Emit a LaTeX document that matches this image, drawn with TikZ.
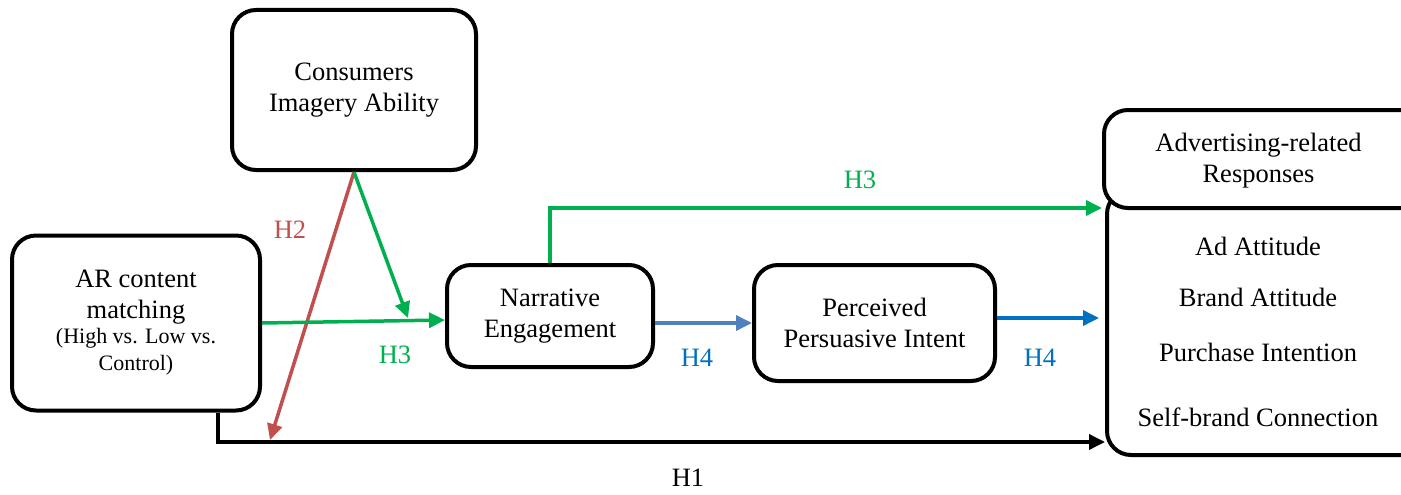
\documentclass[tikz,border=0pt]{standalone}
\usepackage{fontspec}
\setmainfont{Liberation Serif}
\usetikzlibrary{arrows.meta}
\definecolor{hgreen}{RGB}{0,176,80}
\definecolor{hred}{RGB}{192,80,77}
\definecolor{hblue}{RGB}{0,112,192}
\definecolor{hsteel}{RGB}{79,129,189}
\newcommand\bigtxt{\fontsize{26.5}{31}\selectfont}
\newcommand\smalltxt{\fontsize{22}{26}\selectfont}

\begin{document}
\begin{tikzpicture}[x=1pt,y=-1pt,
    box/.style={draw, line width=4pt, rounded corners=24pt, align=center, font=\bigtxt, inner sep=0pt},
    link/.style={line width=3.5pt, -{Triangle[length=16pt,width=15pt]}},
    hlabel/.style={font=\bigtxt, align=center}]
\useasboundingbox (0,0) rectangle (1401,495);

\node [box, minimum width=244pt, minimum height=160pt] (cia) at (354,90) {Consumers\\Imagery Ability};
\node [box, minimum width=248pt, minimum height=175pt] (arc) at (136,323)
    {AR content\\matching\\[-6pt]{\smalltxt (High vs. Low vs.}\\[-4pt]{\smalltxt Control)}};
\node [box, minimum width=206pt, minimum height=102pt] (ne) at (550,316) {Narrative\\Engagement};
\node [box, minimum width=241pt, minimum height=116pt] (ppi) at (874.5,323) {Perceived\\Persuasive Intent};
\node [box, minimum width=340pt, minimum height=265pt] (resp) at (1277,322.5) {};
\node [box, fill=white, minimum width=343pt, minimum height=98pt] (arr) at (1275.5,159) {};

\node [hlabel] (arrtitle) at (1258.5,161) {Advertising-related\\Responses};
\node [hlabel] (adatt) at (1258,246) {Ad Attitude};
\node [hlabel] (bratt) at (1258,297) {Brand Attitude};
\node [hlabel] (purint) at (1258,352) {Purchase Intention};
\node [hlabel] (sbc) at (1258,417) {Self-brand Connection};

\coordinate (h2end) at (270,440);
\coordinate (modend) at (408,318);

\draw [link] ([xshift=82pt]arc.south) |- ([yshift=15pt]resp.south west);
\draw [link, hred] (cia.south) -- (h2end);
\draw [link, hgreen] (cia.south) -- (modend);
\draw [link, hgreen] (arc.east) -- ([yshift=-4pt]ne.west);
\draw [link, hgreen] (ne.north) |- ([yshift=2pt]arr.south west);
\draw [link, hsteel] (ne.east |- ppi.west) -- (ppi.west);
\draw [link, hblue, shorten >=6pt] ([yshift=5pt]ppi.east) -- ([yshift=5pt]ppi.east -| resp.west);

\node [hlabel, hred] (h2) at (290,230) {H2};
\node [hlabel, hgreen] (h3a) at (395,355) {H3};
\node [hlabel, hgreen] (h3b) at (860,180) {H3};
\node [hlabel, hblue] (h4a) at (697,358) {H4};
\node [hlabel, hblue] (h4b) at (1040,358) {H4};
\node [hlabel] (h1) at (688,478) {H1};
\end{tikzpicture}
\end{document}
